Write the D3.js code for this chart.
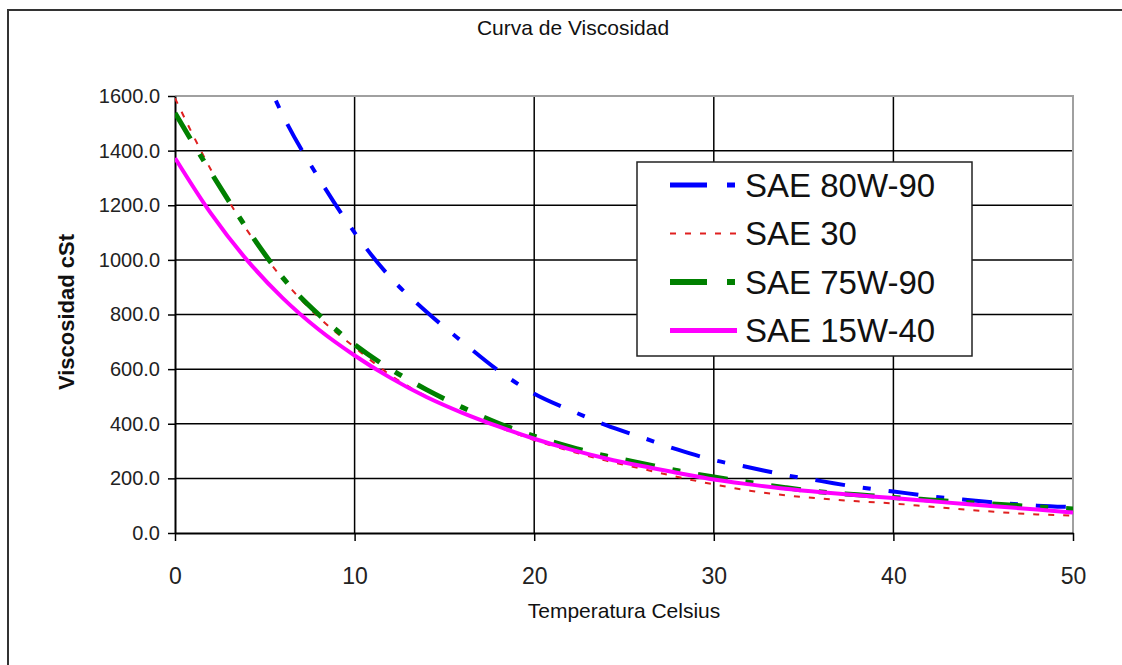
<!DOCTYPE html>
<html>
<head>
<meta charset="utf-8">
<script src="https://cdn.jsdelivr.net/npm/d3@7"></script>
<style>
  html, body { margin: 0; padding: 0; background: #fff; overflow: hidden; }
  svg { display: block; font-family: "Liberation Sans", Arial, sans-serif; }
</style>
</head>
<body>
<svg id="chart" width="1122" height="665"></svg>
<script>
const temps = [0,2,4,6,8,10,12,14,16,18,20,22,24,26,28,30,32,34,36,38,40,42,44,46,48,50];
const sae80w90 = [2500,2150,1830,1530,1300,1100,935,810,700,595,510,450,395,350,305,267,240,212,190,168,152,135,122,110,100,95];
const sae30    = [1592,1330,1110,930,790,680,578,500,440,388,340,300,265,235,205,178,155,138,126,116,108,97,86,76,68,64];
const sae75w90 = [1538,1320,1115,935,800,690,600,525,460,402,355,315,282,255,228,205,185,166,150,140,130,121,112,104,96,88];
const sae15w40 = [1373,1170,1000,860,745,650,568,498,440,390,345,306,273,245,220,196,178,162,149,138,128,117,106,96,86,75];
const seriesNames = ["SAE 80W-90","SAE 30","SAE 75W-90","SAE 15W-40"];
const xTicks = [0,10,20,30,40,50];
const yTicks = [0,200,400,600,800,1000,1200,1400,1600];

const series = [
  {name: seriesNames[0], values: sae80w90, color: "#0000ff", width: 4, dash: "30,18,8,18"},
  {name: seriesNames[1], values: sae30,    color: "#e02020", width: 2, dash: "6,9"},
  {name: seriesNames[2], values: sae75w90, color: "#008000", width: 5, dash: "30,18,8,18"},
  {name: seriesNames[3], values: sae15w40, color: "#ff00ff", width: 4, dash: null}
];

const svg = d3.select("#chart");
const L = 175, R = 1073, T = 96, B = 533;
const x = d3.scaleLinear().domain([0,50]).range([L,R]);
const y = d3.scaleLinear().domain([0,1600]).range([B,T]);

// outer chart border (only top and left fall inside the picture)
svg.append("path").attr("d","M8,700V10H1130").attr("fill","none")
  .attr("stroke","#333").attr("stroke-width",2);

// title
svg.append("text").attr("x",573).attr("y",35).attr("text-anchor","middle")
  .attr("font-size",21).attr("fill","#111").text("Curva de Viscosidad");

// gridlines
svg.append("g").selectAll("line").data(yTicks.filter(d=>d>0 && d<1600)).join("line")
  .attr("x1",L).attr("x2",R).attr("y1",d=>y(d)).attr("y2",d=>y(d))
  .attr("stroke","#000").attr("stroke-width",1.5);
svg.append("g").selectAll("line").data(xTicks.filter(d=>d>0 && d<50)).join("line")
  .attr("y1",T).attr("y2",B).attr("x1",d=>x(d)).attr("x2",d=>x(d))
  .attr("stroke","#000").attr("stroke-width",1.5);
// plot border top/right
svg.append("path").attr("d",`M${L},${T}H${R}V${B}`).attr("fill","none")
  .attr("stroke","#a0a0a0").attr("stroke-width",2);

// axes
const xAxis = d3.axisBottom(x).tickValues(xTicks).tickSizeInner(8).tickSizeOuter(0).tickFormat(d3.format("d"));
const gx = svg.append("g").attr("transform",`translate(0,${B})`).call(xAxis);
gx.select(".domain").attr("stroke","#000").attr("stroke-width",2);
gx.selectAll(".tick line").attr("stroke","#000").attr("stroke-width",1.5).attr("y1",0);
gx.selectAll(".tick text").attr("font-size",23).attr("fill","#222").attr("y",35)
  .attr("font-family","Liberation Sans, Arial, sans-serif");

const yAxis = d3.axisLeft(y).tickValues(yTicks).tickSizeInner(7).tickSizeOuter(0).tickFormat(d3.format(".1f"));
const gy = svg.append("g").attr("transform",`translate(${L},0)`).call(yAxis);
gy.select(".domain").attr("stroke","#000").attr("stroke-width",2);
gy.selectAll(".tick line").attr("stroke","#000").attr("stroke-width",1.5).attr("x2",-7);
gy.selectAll(".tick text").attr("font-size",20).attr("fill","#222").attr("x",-15)
  .attr("font-family","Liberation Sans, Arial, sans-serif");

// axis titles
svg.append("text").attr("x",624).attr("y",618).attr("text-anchor","middle")
  .attr("font-size",21).attr("fill","#111").text("Temperatura Celsius");
svg.append("text").attr("transform","translate(74,312) rotate(-90)").attr("text-anchor","middle")
  .attr("font-size",22).attr("font-weight","bold").attr("fill","#111").text("Viscosidad cSt");

// clip
svg.append("clipPath").attr("id","clip").append("rect")
  .attr("x",L).attr("y",T-2).attr("width",R-L).attr("height",B-T+2);

const line = d3.line().x((d,i)=>x(temps[i])).y(d=>y(d)).curve(d3.curveMonotoneX);
const gl = svg.append("g").attr("clip-path","url(#clip)");
series.forEach(s => {
  gl.append("path").attr("d", line(s.values)).attr("fill","none")
    .attr("stroke", s.color).attr("stroke-width", s.width)
    .attr("stroke-dasharray", s.dash).attr("stroke-linejoin","round");
});

// legend
const lg = svg.append("g");
lg.append("rect").attr("x",637).attr("y",162).attr("width",335).attr("height",194)
  .attr("fill","#fff").attr("stroke","#222").attr("stroke-width",1.5);
const legendDash = ["37,20,8,20","6,9","37,20,8,20",null];
series.forEach((s,i) => {
  const cy = 185 + i*48.5;
  lg.append("line").attr("x1",670).attr("x2",737).attr("y1",cy).attr("y2",cy)
    .attr("stroke",s.color).attr("stroke-width",s.width+ (i===1?0:1))
    .attr("stroke-dasharray",legendDash[i]);
  lg.append("text").attr("x",745).attr("y",cy).attr("dy","0.36em")
    .attr("font-size",33).attr("fill","#111").text(s.name);
});
</script>
</body>
</html>
